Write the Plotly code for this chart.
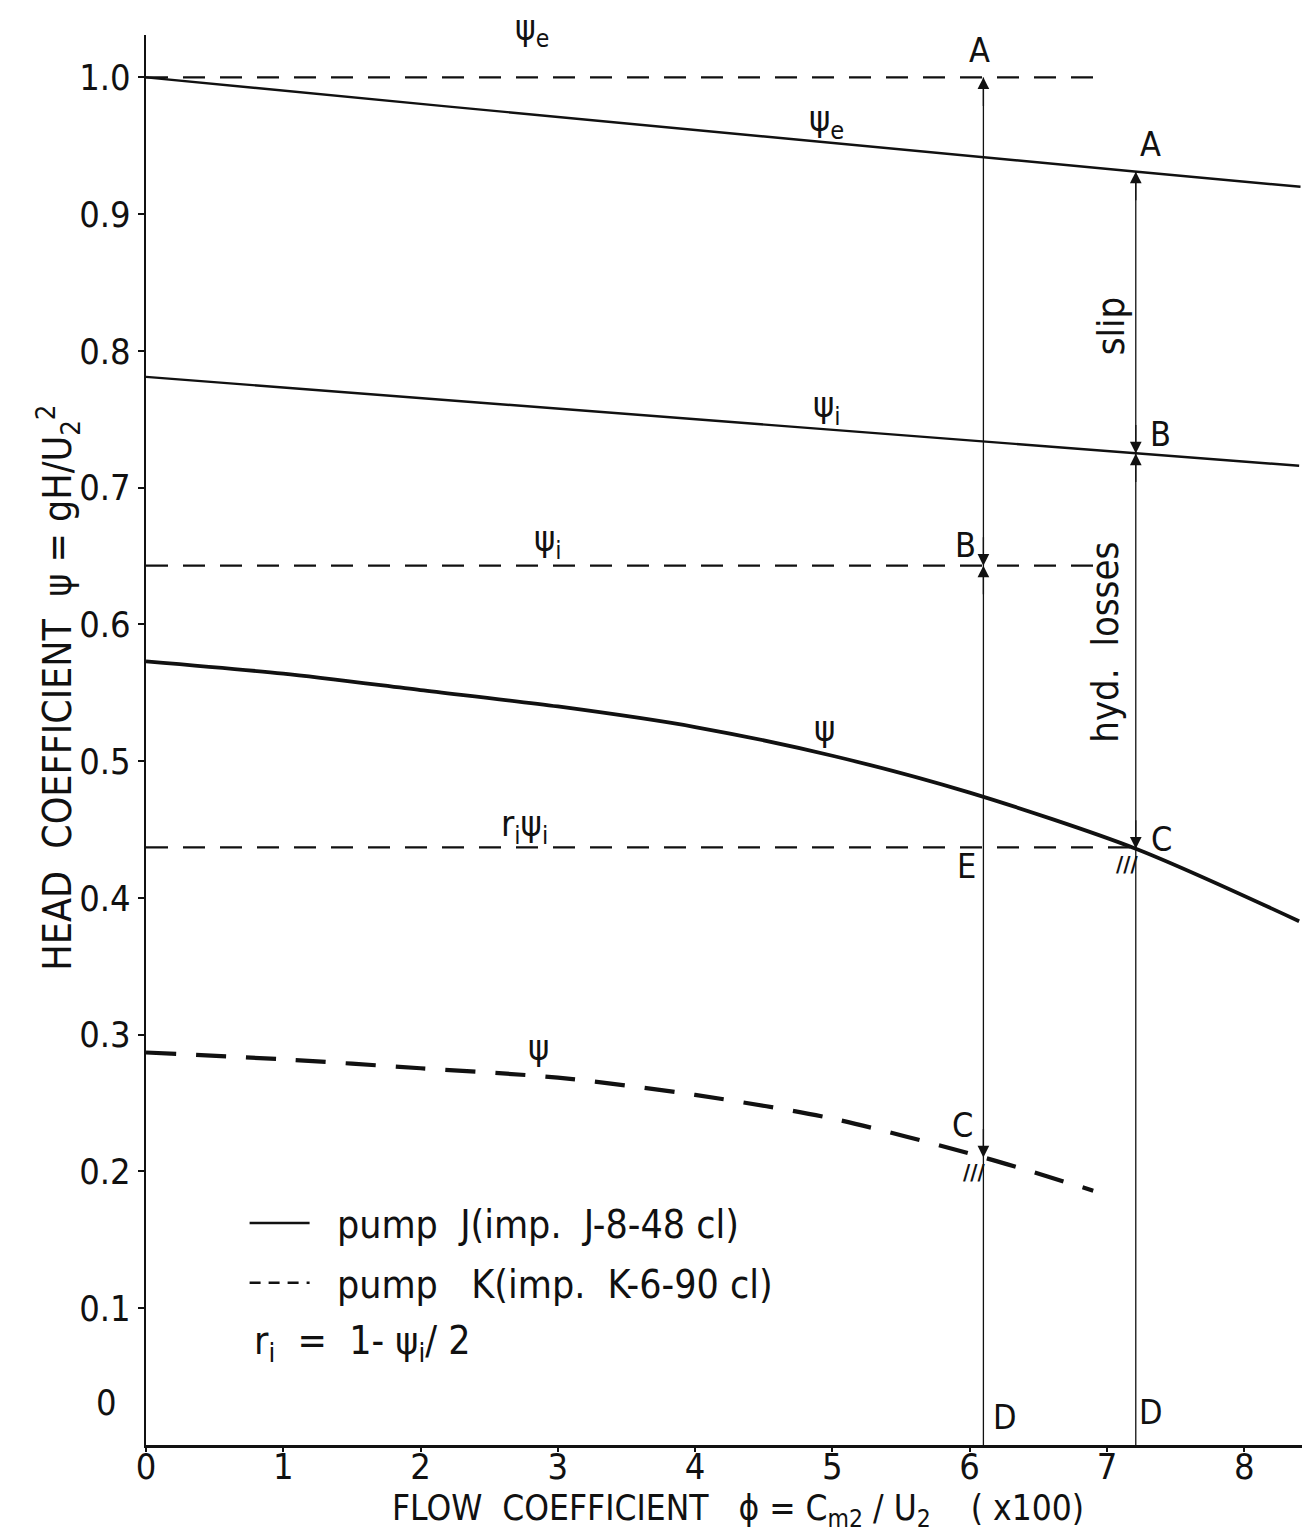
import numpy as np
import plotly.graph_objects as go

# ---------------- data ----------------
# flow coefficient phi (x100) and head coefficients psi
phi_psi_e_J = [0.0, 2.17, 7.22, 8.41]
psi_e_J = [1.000, 0.979, 0.931, 0.920]
phi_psi_i_J = [0.0, 7.21, 8.40]
psi_i_J = [0.781, 0.725, 0.716]
phi_psi_J = [0.0, 1.0, 2.0, 3.0, 4.0, 5.0, 6.0, 7.21, 8.40]
psi_J = [0.573, 0.564, 0.552, 0.540, 0.525, 0.504, 0.477, 0.436, 0.383]

phi_psi_e_K = [0.0, 6.90]
psi_e_K = [1.000, 1.000]
phi_psi_i_K = [0.0, 6.93]
psi_i_K = [0.643, 0.643]
phi_ri_psi_i_K = [0.0, 7.21]
ri_psi_i_K = [0.437, 0.437]
phi_psi_K = [0.0, 1.0, 2.0, 3.0, 4.0, 5.0, 6.1, 6.9]
psi_K = [0.287, 0.282, 0.2755, 0.2686, 0.256, 0.2387, 0.2103, 0.186]

phi_D_K = 6.10   # operating point of pump K
phi_D_J = 7.21   # operating point of pump J

x_ticks = [0, 1, 2, 3, 4, 5, 6, 7, 8]
y_ticks = [0.1, 0.2, 0.3, 0.4, 0.5, 0.6, 0.7, 0.8, 0.9, 1.0]
y_tick_text = ["0.1", "0.2", "0.3", "0.4", "0.5", "0.6", "0.7", "0.8", "0.9", "1.0"]

legend_J = "\u00a0\u00a0pump\u00a0 J(imp.\u00a0 J-8-48 cl)"
legend_K = "\u00a0\u00a0pump\u00a0\u00a0 K(imp.\u00a0 K-6-90 cl)"

# ---------------- style ----------------
FONT = "DejaVu Sans Condensed, DejaVu Sans, sans-serif"
BLACK = "#111111"
FS_TICK = 36
FS_LAB = 34
FS_TXT = 39
Y_TOP = 1.031

fig = go.Figure()

def add_line(x, y, width, dash="solid", shape="linear"):
    fig.add_trace(go.Scatter(
        x=x, y=y, mode="lines",
        line=dict(color=BLACK, width=width, dash=dash, shape=shape, smoothing=0.8),
        showlegend=False, hoverinfo="skip"))

# pump J (solid)
add_line(phi_psi_e_J, psi_e_J, 2.4)
add_line(phi_psi_i_J, psi_i_J, 2.4)
add_line(phi_psi_J, psi_J, 3.8, shape="spline")

# pump K (dashed)
add_line(phi_psi_e_K, psi_e_K, 2.4, dash="22px,15px")
add_line(phi_psi_i_K, psi_i_K, 2.4, dash="22px,15px")
add_line(phi_ri_psi_i_K, ri_psi_i_K, 2.4, dash="22px,15px")
add_line(phi_psi_K, psi_K, 4.2, dash="30px,20px", shape="spline")

# legend entries (key only)
fig.add_trace(go.Scatter(x=[None], y=[None], mode="lines", name=legend_J,
                         line=dict(color=BLACK, width=2.4), legendgroup="J"))
fig.add_trace(go.Scatter(x=[None], y=[None], mode="lines", name=legend_K,
                         line=dict(color=BLACK, width=2.4, dash="11px,8px"), legendgroup="K"))

# operating point values on the curves
A_K = float(np.interp(phi_D_K, phi_psi_e_K, psi_e_K))
B_K = float(np.interp(phi_D_K, phi_psi_i_K, psi_i_K))
C_K = float(np.interp(phi_D_K, phi_psi_K, psi_K))
A_J = float(np.interp(phi_D_J, phi_psi_e_J, psi_e_J))
B_J = float(np.interp(phi_D_J, phi_psi_i_J, psi_i_J))
C_J = float(np.interp(phi_D_J, phi_psi_J, psi_J))

# vertical dimension lines D-A
add_line([phi_D_K, phi_D_K], [0.0, A_K], 1.3)
add_line([phi_D_J, phi_D_J], [0.0, A_J], 1.3)

annotations = []

def arrow(x, y, up):
    annotations.append(dict(
        x=x, y=y, xref="x", yref="y", text="", showarrow=True,
        ax=0, ay=(30 if up else -30), arrowhead=2, arrowsize=1.8,
        arrowwidth=1.3, arrowcolor=BLACK, standoff=0, startstandoff=0))

for xD, A, B, C in [(phi_D_K, A_K, B_K, C_K), (phi_D_J, A_J, B_J, C_J)]:
    arrow(xD, A, True)
    arrow(xD, B, False)
    arrow(xD, B, True)
    arrow(xD, C, False)
    # hatch marking the operating point
    annotations.append(dict(x=xD, y=C, xref="x", yref="y", text="<b>///</b>",
                            showarrow=False, xanchor="right", yanchor="top",
                            xshift=4, yshift=-1,
                            font=dict(family=FONT, size=22, color=BLACK)))

def label(x, y, text, size=FS_LAB, angle=0, yref="y"):
    annotations.append(dict(x=x, y=y, xref="x", yref=yref, text=text, showarrow=False,
                            textangle=angle, xanchor="center", yanchor="middle",
                            font=dict(family=FONT, size=size, color=BLACK)))

label(2.815, 1.034 / Y_TOP, "ψ<sub>e</sub>", 35, yref="paper")
label(6.07, 1.020, "A")
label(4.96, 0.968, "ψ<sub>e</sub>", 36)
label(7.32, 0.951, "A")
label(7.03, 0.818, "slip", size=38, angle=-90)
label(7.39, 0.7395, "B")
label(4.96, 0.7585, "ψ<sub>i</sub>", 36)
label(2.93, 0.6605, "ψ<sub>i</sub>", 36)
label(5.97, 0.658, "B")
label(6.99, 0.587, "hyd.  losses", size=38, angle=-90)
label(4.945, 0.524, "ψ", 36)
label(2.754, 0.452, "r<sub>i</sub>ψ<sub>i</sub>", 36)
label(5.98, 0.4235, "E")
label(7.40, 0.4434, "C")
label(2.86, 0.291, "ψ", 36)
label(5.95, 0.234, "C")
label(6.26, 0.0205, "D")
label(7.32, 0.024, "D")

# formula, origin label, axis titles (paper coordinates)
annotations.append(dict(x=0.091, y=0.072, xref="paper", yref="paper",
                        text="r<sub>i</sub>\u00a0 = \u00a01- ψ<sub>i</sub>/ 2", showarrow=False,
                        xanchor="left", yanchor="middle",
                        font=dict(family=FONT, size=FS_TXT, color=BLACK)))
annotations.append(dict(x=-0.034, y=0.030, xref="paper", yref="paper", text="0",
                        showarrow=False, xanchor="center", yanchor="middle",
                        font=dict(family=FONT, size=FS_TICK, color=BLACK)))
annotations.append(dict(x=-0.076, y=0.537, xref="paper", yref="paper",
                        text="HEAD  COEFFICIENT  ψ = gH/U<sub>2</sub><sup>2</sup>",
                        showarrow=False, textangle=-90, xanchor="center", yanchor="middle",
                        font=dict(family=FONT, size=FS_TXT, color=BLACK)))
annotations.append(dict(x=0.51, y=-0.0465, xref="paper", yref="paper",
                        text="FLOW\u00a0 COEFFICIENT\u00a0\u00a0 ϕ = C<sub>m2</sub> / U<sub>2</sub>\u00a0\u00a0\u00a0 ( x100)",
                        showarrow=False, xanchor="center", yanchor="middle",
                        font=dict(family=FONT, size=35, color=BLACK)))

fig.update_layout(
    width=1310, height=1535,
    margin=dict(l=138, r=12, t=27, b=98, pad=0),
    paper_bgcolor="white", plot_bgcolor="white",
    font=dict(family=FONT, size=FS_TICK, color=BLACK),
    showlegend=True,
    legend=dict(x=0.085, y=0.180, xanchor="left", yanchor="top",
                bgcolor="rgba(0,0,0,0)", borderwidth=0, itemwidth=60,
                traceorder="grouped", tracegroupgap=6,
                font=dict(family=FONT, size=FS_TXT, color=BLACK)),
    annotations=annotations,
)
fig.update_xaxes(range=[0, 8.45], tickvals=x_ticks, ticktext=[str(v) for v in x_ticks],
                 showgrid=False, zeroline=False, showline=True, linecolor=BLACK, linewidth=2.6,
                 ticks="outside", ticklen=4, tickwidth=2, tickcolor=BLACK,
                 ticklabelstandoff=-16,
                 tickfont=dict(family=FONT, size=FS_TICK, color=BLACK))
fig.update_yaxes(range=[0, Y_TOP], tickvals=y_ticks, ticktext=y_tick_text,
                 showgrid=False, zeroline=False, showline=True, linecolor=BLACK, linewidth=2.2,
                 ticks="outside", ticklen=6, tickwidth=2, tickcolor=BLACK,
                 tickfont=dict(family=FONT, size=FS_TICK, color=BLACK))

fig.write_html("out.html")
